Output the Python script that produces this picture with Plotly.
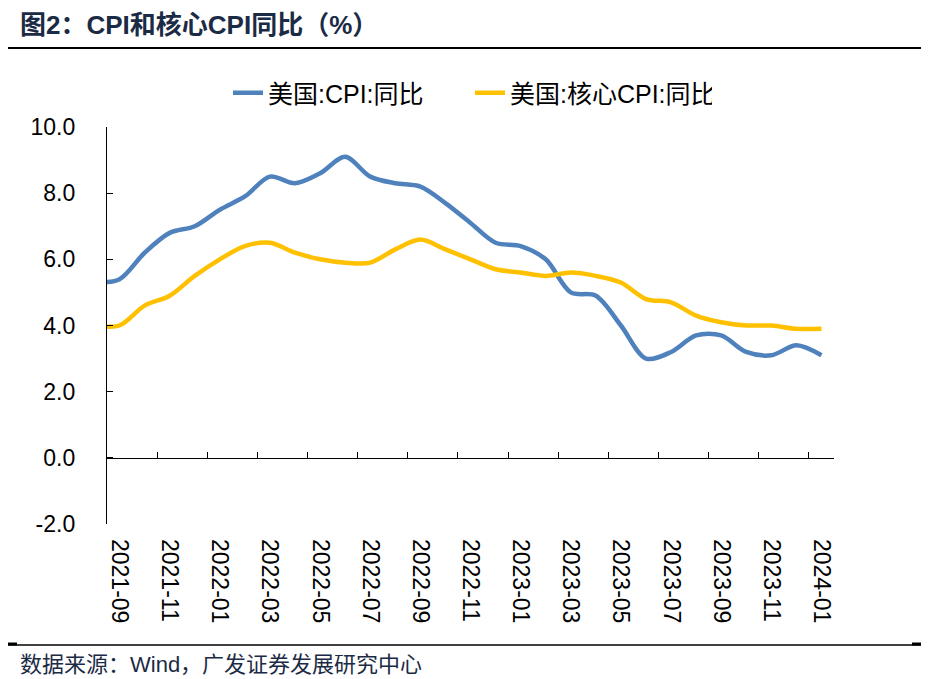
import plotly.graph_objects as go

months = ["2021-08", "2021-09", "2021-10", "2021-11", "2021-12",
          "2022-01", "2022-02", "2022-03", "2022-04", "2022-05", "2022-06",
          "2022-07", "2022-08", "2022-09", "2022-10", "2022-11", "2022-12",
          "2023-01", "2023-02", "2023-03", "2023-04", "2023-05", "2023-06",
          "2023-07", "2023-08", "2023-09", "2023-10", "2023-11", "2023-12",
          "2024-01"]
cpi_yoy = [5.3, 5.4, 6.2, 6.8, 7.0,
           7.5, 7.9, 8.5, 8.3, 8.6, 9.1,
           8.5, 8.3, 8.2, 7.7, 7.1, 6.5,
           6.4, 6.0, 5.0, 4.9, 4.0, 3.0,
           3.2, 3.7, 3.7, 3.2, 3.1, 3.4,
           3.1]
core_cpi_yoy = [4.0, 4.0, 4.6, 4.9, 5.5,
                6.0, 6.4, 6.5, 6.2, 6.0, 5.9,
                5.9, 6.3, 6.6, 6.3, 6.0, 5.7,
                5.6, 5.5, 5.6, 5.5, 5.3, 4.8,
                4.7, 4.3, 4.1, 4.0, 4.0, 3.9,
                3.9]
y_ticks = [-2, 0, 2, 4, 6, 8, 10]
y_tick_text = [f"{v:.1f}" for v in y_ticks]

x_idx = list(range(len(months)))
label_vals = x_idx[1::2]
label_text = months[1::2]
boundary_vals = [i + 0.5 for i in range(0, len(months) - 1, 2)]

FONT = "Liberation Sans, Arial, Noto Sans CJK SC, sans-serif"
BLUE = "#4F81BD"
GOLD = "#FFC000"

# page body has an 8px offset; plot area spans screen px x 107..834, y 127..524
OFF = 8
PL, PR, PT, PB = 107, 834, 127, 524
W, H = 929 - OFF, 679 - OFF

fig = go.Figure()
fig.add_trace(go.Scatter(x=x_idx, y=cpi_yoy, mode="lines", name="美国:CPI:同比",
                         line=dict(color=BLUE, width=4.5, shape="spline", smoothing=0.9),
                         xaxis="x", yaxis="y"))
fig.add_trace(go.Scatter(x=x_idx, y=core_cpi_yoy, mode="lines", name="美国:核心CPI:同比",
                         line=dict(color=GOLD, width=4.5, shape="spline", smoothing=0.9),
                         xaxis="x2", yaxis="y"))

ymin, ymax = y_ticks[0], y_ticks[-1]

def px_x(p):
    return (p - PL) / (PR - PL)

def px_y(p):
    return (PB - p) / (PB - PT)

fig.update_layout(
    width=W, height=H,
    margin=dict(l=PL - OFF, r=W - (PR - OFF), t=PT - OFF, b=H - (PB - OFF)),
    paper_bgcolor="white", plot_bgcolor="white",
    font=dict(family=FONT, size=23, color="black"),
    showlegend=True,
    legend=dict(orientation="h", x=px_x(470), xanchor="center", y=px_y(93), yanchor="middle",
                font=dict(size=25, family=FONT), bgcolor="rgba(0,0,0,0)",
                entrywidth=197, entrywidthmode="pixels"),
    xaxis=dict(range=[0.5, len(months) - 0.5], tickmode="array", tickvals=label_vals,
               ticktext=label_text, tickangle=90, showline=False, ticks="",
               showgrid=False, zeroline=False, tickfont=dict(size=23),
               ticklabelstandoff=14),
    xaxis2=dict(matches="x", overlaying="x", anchor="free",
                position=(0 - ymin) / (ymax - ymin), side="bottom",
                tickmode="array", tickvals=boundary_vals, ticks="inside", ticklen=6,
                tickcolor="black", showticklabels=False, showline=True,
                linecolor="black", linewidth=1.3, showgrid=False, zeroline=False),
    yaxis=dict(range=[ymin, ymax], tickmode="array", tickvals=y_ticks,
               ticktext=y_tick_text, ticks="inside", ticklen=6, tickcolor="black",
               showline=True, linecolor="black", linewidth=1.3, showgrid=False,
               zeroline=False, tickfont=dict(size=23), ticklabelstandoff=26),
)

fig.add_annotation(text="<b>图2：CPI和核心CPI同比（%）</b>", xref="paper", yref="paper",
                   x=px_x(18), y=px_y(25), xanchor="left", yanchor="middle",
                   showarrow=False, font=dict(size=26, color="#1c2b45", family=FONT))
fig.add_annotation(text="数据来源：Wind，广发证券发展研究中心", xref="paper", yref="paper",
                   x=px_x(18), y=px_y(664), xanchor="left", yanchor="middle",
                   showarrow=False, font=dict(size=22, color="#1c2b45", family=FONT))

fig.add_shape(type="line", xref="paper", yref="paper", x0=px_x(OFF), x1=px_x(929),
              y0=px_y(48), y1=px_y(48), line=dict(color="black", width=2))
fig.add_shape(type="line", xref="paper", yref="paper", x0=px_x(OFF), x1=px_x(929),
              y0=px_y(645), y1=px_y(645), line=dict(color="black", width=1.3))
fig.add_shape(type="line", xref="paper", yref="paper", x0=px_x(OFF), x1=px_x(17),
              y0=px_y(644), y1=px_y(644), line=dict(color="black", width=3))
fig.add_shape(type="line", xref="paper", yref="paper", x0=px_x(912), x1=px_x(929),
              y0=px_y(644), y1=px_y(644), line=dict(color="black", width=3))

fig.write_html("out.html")
